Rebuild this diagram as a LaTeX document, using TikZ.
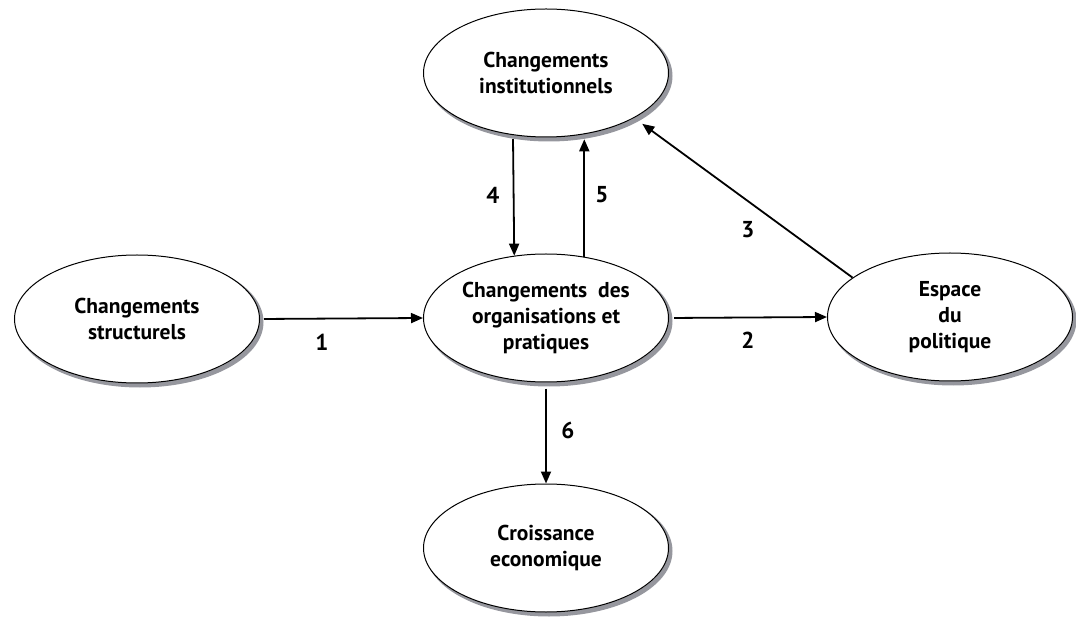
\documentclass[tikz,border=0pt]{standalone}
\usepackage{fontspec}
\setmainfont{PT Sans}
\usetikzlibrary{shapes.geometric,arrows.meta}
\definecolor{shadowgray}{RGB}{150,151,158}
\tikzset{
  bubble/.style={ellipse, draw=black, line width=1pt, fill=white,
    minimum width=245pt, minimum height=128pt, inner sep=0pt,
    align=center, font=\bfseries\fontsize{21.5}{26}\selectfont},
  dropline/.style={draw=shadowgray, line width=5pt},
  link/.style={line width=1.8pt, -{Triangle[length=12pt,width=10pt]}},
  num/.style={font=\bfseries\fontsize{23}{23}\selectfont, inner sep=0pt}
}
\begin{document}
\begin{tikzpicture}[x=1pt,y=-1pt]
\useasboundingbox (0,0) rectangle (1076,617);
% drop shadows (drawn as thick gray outlines offset down-right)
\path[dropline] (549,76) ellipse (121pt and 63pt);
\path[dropline] (549,321) ellipse (121pt and 63pt);
\path[dropline] (140,322) ellipse (121pt and 63pt);
\path[dropline] (953,320) ellipse (121pt and 63pt);
\path[dropline] (549,551) ellipse (121pt and 63pt);

\node[bubble] (T) at (546,73) {Changements\\institutionnels};
\node[bubble] (M) at (546,318) {Changements\ \ des\\organisations et\\pratiques};
\node[bubble] (L) at (137,319) {Changements\\structurels};
\node[bubble] (E) at (950,317) {Espace\\du\\politique};
\node[bubble] (B) at (546,548) {Croissance\\economique};

\draw[link, shorten <=4pt] (L.east) -- (M.west);
\draw[link, shorten <=5pt] (M.east) -- (E.west);
\draw[link, shorten <=4pt] (T.242.6) -- (M.117.4);
\draw[link, shorten >=5pt] (M.58) -- (T.302);
\draw[link, shorten >=10pt] (E.158.3) -- (T.-27.5);
\draw[link, shorten <=6pt] (M.south) -- (B.north);

\node[num] (n1) at (322,342) {1};
\node[num] (n2) at (748,340) {2};
\node[num] (n3) at (748,230) {3};
\node[num] (n4) at (493,195) {4};
\node[num] (n5) at (602,195) {5};
\node[num] (n6) at (568,430) {6};
\end{tikzpicture}
\end{document}
